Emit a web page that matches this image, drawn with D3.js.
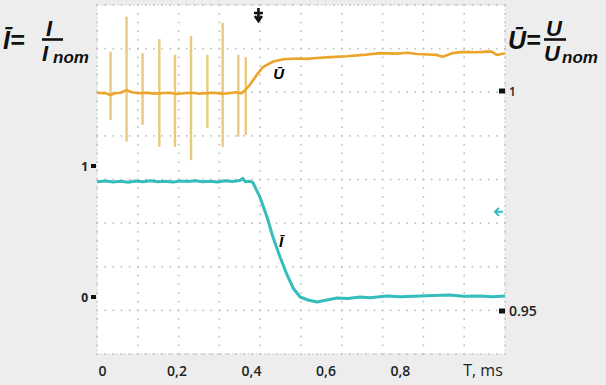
<!DOCTYPE html>
<html>
<head>
<meta charset="utf-8">
<script src="https://cdn.jsdelivr.net/npm/d3@7"></script>
<style>
  body { margin: 0; background: #ededed; }
  svg { display: block; font-family: "Open Sans", "DejaVu Sans", sans-serif; }
</style>
</head>
<body>
<svg id="chart" width="606" height="385"></svg>
<script>
//---- Data -------------------------------------------------------------------
// time axis, ms
var xTicks = [0, 0.2, 0.4, 0.6, 0.8];

// current, relative (I / I_nom) - cyan trace
var curT = [-0.013, 0.01, 0.03, 0.05, 0.07, 0.09, 0.11, 0.13, 0.15, 0.17, 0.19, 0.21, 0.23, 0.25, 0.27,
  0.29, 0.31, 0.33, 0.35, 0.37, 0.378, 0.385, 0.395, 0.405, 0.424, 0.443, 0.459, 0.478, 0.497, 0.513,
  0.532, 0.553, 0.577, 0.604, 0.631, 0.66, 0.693, 0.72, 0.765, 0.80, 0.854, 0.89, 0.934, 0.97, 1.015, 1.05, 1.082];
var curVal = [0.880, 0.886, 0.878, 0.884, 0.876, 0.885, 0.880, 0.887, 0.879, 0.883, 0.877, 0.886, 0.881, 0.888, 0.879,
  0.884, 0.878, 0.887, 0.882, 0.889, 0.905, 0.880, 0.884, 0.875, 0.763, 0.611, 0.458, 0.305, 0.168, 0.069,
  0.0, -0.023, -0.038, -0.023, -0.008, -0.012, 0.0, -0.006, 0.008, 0.002, 0.008, 0.012, 0.015, 0.006, 0.008, 0.002, 0.008];

// voltage, relative (U / U_nom) - orange trace
var volT = [-0.013, 0.01, 0.023, 0.035, 0.05, 0.066, 0.08, 0.10, 0.12, 0.14, 0.16, 0.18, 0.20, 0.22, 0.24,
  0.26, 0.28, 0.30, 0.32, 0.34, 0.36, 0.375, 0.384, 0.397, 0.415, 0.433, 0.460, 0.487, 0.523, 0.55,
  0.576, 0.612, 0.657, 0.701, 0.746, 0.791, 0.82, 0.845, 0.875, 0.899, 0.915, 0.94, 0.970, 1.0, 1.024,
  1.045, 1.060, 1.082];
var volVal = [0.9996, 0.9995, 0.9991, 0.9995, 0.9996, 1.0002, 0.9997, 0.9995, 0.9996, 0.9994, 0.9995, 0.9996, 0.9993, 0.9995, 0.9996,
  0.9994, 0.9995, 0.9996, 0.9994, 0.9995, 0.9997, 0.9995, 1.0002, 1.0014, 1.0036, 1.0055, 1.0067, 1.0072, 1.0074, 1.0073,
  1.0075, 1.0077, 1.0079, 1.0082, 1.0086, 1.0085, 1.0087, 1.0084, 1.0083, 1.0082, 1.0078, 1.0086, 1.0089, 1.0088, 1.0089,
  1.0090, 1.0082, 1.0086];

// switching spikes on the voltage trace
var spikeT = [0.023, 0.066, 0.109, 0.154, 0.196, 0.239, 0.283, 0.324, 0.366, 0.386];
var spikeHi = [1.0089, 1.0169, 1.0086, 1.0118, 1.0082, 1.0125, 1.0082, 1.0155, 1.0082, 1.0077];
var spikeLo = [0.9934, 0.9885, 0.9923, 0.9873, 0.9873, 0.9843, 0.9916, 0.9873, 0.9896, 0.9900];

// axis labels
var leftTicks = [1, 0];
var rightTicks = [1, 0.95];

//---- Layout -----------------------------------------------------------------
var svg = d3.select("#chart");
var plot = { left: 97, right: 505, top: 5, bottom: 354 };

var x = d3.scaleLinear().domain([-0.0134, 1.082]).range([plot.left, plot.right]);
var yI = d3.scaleLinear().domain([0, 1]).range([297, 166]);
var yU = d3.scaleLinear().domain([0.95, 1]).range([311, 91]);

// scope graticule: 10 x 8 divisions, 5 minor steps each
var gx = d3.scaleLinear().domain([0, 10]).range([plot.left, plot.right]);
var gy = d3.scaleLinear().domain([0, 8]).range([plot.top, plot.bottom]);

svg.append("rect")
  .attr("x", plot.left).attr("y", plot.top)
  .attr("width", plot.right - plot.left).attr("height", plot.bottom - plot.top)
  .attr("fill", "#fff");

var grid = svg.append("g").attr("fill", "#bdbdbd");
d3.range(0, 11).forEach(function (i) {
  d3.range(0, 40.01, 1).forEach(function (j) {
    grid.append("rect").attr("x", gx(i) - 0.8).attr("y", gy(j / 5) - 0.8).attr("width", 1.6).attr("height", 1.6);
  });
});
d3.range(0, 9).forEach(function (j) {
  d3.range(0, 50.01, 1).forEach(function (i) {
    grid.append("rect").attr("x", gx(i / 5) - 0.8).attr("y", gy(j) - 0.8).attr("width", 1.6).attr("height", 1.6);
  });
});
// frame
svg.append("rect")
  .attr("x", plot.left).attr("y", plot.top)
  .attr("width", plot.right - plot.left).attr("height", plot.bottom - plot.top)
  .attr("fill", "none").attr("stroke", "#d2d2d2").attr("stroke-dasharray", "2,2");

//---- Traces -----------------------------------------------------------------
var spikes = svg.append("g");
spikeT.forEach(function (t, i) {
  spikes.append("line")
    .attr("x1", x(t)).attr("x2", x(t))
    .attr("y1", yU(spikeHi[i])).attr("y2", yU(spikeLo[i]))
    .attr("stroke", "#e6c163").attr("stroke-width", 2.4).attr("opacity", 0.85);
});

var volLine = d3.line().x(function (d) { return x(d[0]); }).y(function (d) { return yU(d[1]); });
svg.append("path")
  .attr("d", volLine(d3.zip(volT, volVal)))
  .attr("fill", "none").attr("stroke", "#eba52a").attr("stroke-width", 2.6)
  .attr("stroke-linejoin", "round");

var curLine = d3.line().x(function (d) { return x(d[0]); }).y(function (d) { return yI(d[1]); });
svg.append("path")
  .attr("d", curLine(d3.zip(curT, curVal)))
  .attr("fill", "none").attr("stroke", "#35bcbc").attr("stroke-width", 3)
  .attr("stroke-linejoin", "round");

// trace names
svg.append("text").attr("x", x(0.46)).attr("y", yU(1.0028))
  .attr("font-family", "'Liberation Sans', sans-serif")
  .attr("font-size", 15).attr("font-weight", 700).attr("font-style", "italic").text("Ū");
svg.append("text").attr("x", x(0.475)).attr("y", yI(0.38))
  .attr("font-family", "'Liberation Sans', sans-serif")
  .attr("font-size", 15).attr("font-weight", 700).attr("font-style", "italic").text("Ī");

// trigger marker (top) and channel marker (right)
var tx = x(0.42);
svg.append("path")
  .attr("d", "M" + tx + ",8 V21 M" + (tx - 4.5) + ",13 H" + (tx + 4.5) + " M" + (tx - 3.5) + ",16 L" + tx + ",21 L" + (tx + 3.5) + ",16")
  .attr("stroke", "#111").attr("stroke-width", 2.6).attr("fill", "none");
var cy = yI(0.65);
svg.append("path")
  .attr("d", "M" + (plot.right - 2) + "," + cy + " H" + (plot.right - 10) + " M" + (plot.right - 6) + "," + (cy - 4) + " L" + (plot.right - 10) + "," + cy + " L" + (plot.right - 6) + "," + (cy + 4))
  .attr("stroke", "#35bcbc").attr("stroke-width", 2).attr("fill", "none");

//---- Axes -------------------------------------------------------------------
var xAxis = d3.axisBottom(x).tickValues(xTicks).tickSize(0)
  .tickFormat(function (d) { return d === 0 ? "0" : String(d).replace(".", ","); });
var gX = svg.append("g").attr("transform", "translate(0,363)").call(xAxis);
gX.select(".domain").remove();
gX.selectAll("text").attr("font-size", 14).attr("font-weight", 600).attr("fill", "#222")
  .attr("font-family", "'Open Sans', sans-serif");
svg.append("text").attr("x", 483).attr("y", 376).attr("text-anchor", "middle")
  .attr("font-size", 16).attr("fill", "#222").text("T, ms");

var lt = svg.append("g");
leftTicks.forEach(function (v) {
  lt.append("rect").attr("x", 91).attr("y", yI(v) - 2).attr("width", 5).attr("height", 4).attr("fill", "#111");
  lt.append("text").attr("x", 88).attr("y", yI(v) + 5).attr("text-anchor", "end")
    .attr("font-size", 12).attr("font-weight", 700).attr("fill", "#222").text(v);
});
var rt = svg.append("g");
rightTicks.forEach(function (v) {
  rt.append("rect").attr("x", 499).attr("y", yU(v) - 2.5).attr("width", 6).attr("height", 5).attr("fill", "#111");
  rt.append("text").attr("x", 509).attr("y", yU(v) + 5)
    .attr("font-size", v === 1 ? 12 : 14).attr("font-weight", 600).attr("fill", "#222").text(v);
});

//---- Titles -----------------------------------------------------------------
function fracTitle(x0, bar, num) {
  var g = svg.append("g").attr("font-weight", 700).attr("font-style", "italic").attr("fill", "#111")
    .attr("font-family", "'Liberation Sans', sans-serif");
  g.append("text").attr("x", x0).attr("y", 49).attr("font-size", 25).text(bar + "=");
  var fx = x0 + (num === "I" ? 39 : 36);
  var w = (num === "I" ? 21 : 22);
  g.append("text").attr("x", fx + (num === "I" ? 4 : 2)).attr("y", 36).attr("font-size", 22).text(num);
  g.append("line").attr("x1", fx).attr("x2", fx + w).attr("y1", 39.5).attr("y2", 39.5)
    .attr("stroke", "#111").attr("stroke-width", 2.6);
  g.append("text").attr("x", fx).attr("y", 61).attr("font-size", 22).text(num);
  g.append("text").attr("x", fx + (num === "I" ? 11 : 18)).attr("y", 63).attr("font-size", 17).text("nom");
}
fracTitle(3, "Ī", "I");
fracTitle(508, "Ū", "U");
</script>
</body>
</html>
